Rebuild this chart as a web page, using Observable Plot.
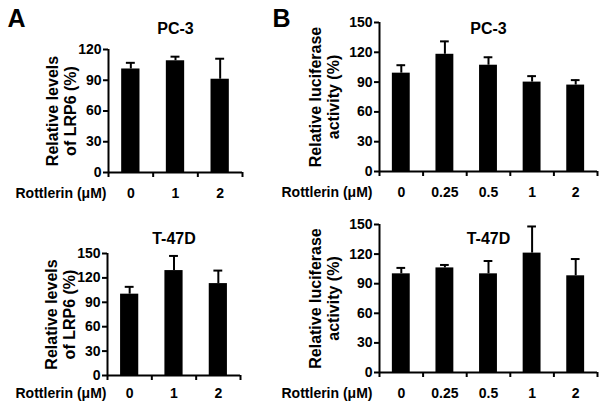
<!DOCTYPE html>
<html><head><meta charset="utf-8">
<script src="https://cdn.jsdelivr.net/npm/d3@7"></script>
<script src="https://cdn.jsdelivr.net/npm/@observablehq/plot@0.6"></script>
<style>
body{margin:0;background:#fff;}
#wrap{position:relative;width:604px;height:406px;background:#fff;}
.panel{position:absolute;}
</style></head><body>
<div id="wrap"></div>
<script>
// ---- data ----
const dosesA = ["0", "1", "2"];
const dosesB = ["0", "0.25", "0.5", "1", "2"];
const lrp6PC3 = [101, 109, 91];
const lrp6PC3Err = [6, 4, 20];
const lrp6T47D = [100, 129, 113];
const lrp6T47DErr = [9, 18, 16];
const lucPC3 = [99, 118, 107, 90, 87];
const lucPC3Err = [8, 13, 8, 6, 5];
const lucT47D = [100, 106, 100, 121, 98];
const lucT47DErr = [6, 3, 13, 27, 17];
const ticks120 = [0, 30, 60, 90, 120];
const ticks150 = [0, 30, 60, 90, 120, 150];
const xTitle = "Rottlerin (\u03BCM)";
const yTitleA = "Relative levels\nof LRP6 (%)";
const yTitleB = "Relative luciferase\nactivity (%)";

const FONT = "'Liberation Sans', Arial, Helvetica, sans-serif";

function panel(o) {
  const data = o.cats.map((c, i) => ({dose: c, pos: i + 0.5, value: o.values[i], err: o.errs[i]}));
  const n = o.cats.length;
  const marks = [
    Plot.rectY(data, {x1: d => d.pos - 0.205, x2: d => d.pos + 0.205, y: "value", fill: "black"}),
    Plot.ruleX(data, {x: "pos", y1: "value", y2: d => d.value + d.err, stroke: "black", strokeWidth: 2}),
    Plot.ruleY(data, {y: d => d.value + d.err, x1: d => d.pos - 0.1, x2: d => d.pos + 0.1, stroke: "black", strokeWidth: 2}),
    Plot.axisY({ticks: o.yTicks, label: null, tickSize: 5, tickPadding: 2, strokeWidth: 2, tickFormat: d => String(d), fontSize: 14, fontWeight: "bold"}),
    Plot.axisX({ticks: d3.range(n + 1), label: null, tickSize: 5, strokeWidth: 2, tickFormat: () => ""}),
    Plot.ruleX([0], {stroke: "black", strokeWidth: 2}),
    Plot.ruleY([0], {stroke: "black", strokeWidth: 2}),
    Plot.text(data, {x: "pos", text: "dose", frameAnchor: "bottom", dy: o.xlabDy, lineAnchor: "bottom", fontSize: 14, fontWeight: "bold"}),
    Plot.text([xTitle], {text: d => d, frameAnchor: "bottom-left", dx: o.rottDx, dy: o.xlabDy, textAnchor: "end", lineAnchor: "bottom", fontSize: 14, fontWeight: "bold"}),
    Plot.text([o.title], {text: d => d, frameAnchor: "top", dy: o.titleDy, lineAnchor: "bottom", fontSize: 16, fontWeight: "bold"}),
    Plot.text([o.ylabel], {text: d => d, frameAnchor: "left", dx: o.ylabelDx, dy: o.ylabelDy || 0, rotate: -90, lineAnchor: "bottom", textAnchor: "middle", lineHeight: 1.1, fontSize: 16, fontWeight: "bold"})
  ];
  if (o.letter) {
    marks.push(Plot.text([o.letter], {text: d => d, frameAnchor: "top-left", dx: o.letterDx, dy: o.letterDy, textAnchor: "start", lineAnchor: "bottom", fontSize: 25, fontWeight: "bold"}));
  }
  const chart = Plot.plot({
    width: o.width, height: o.height,
    marginLeft: o.m[0], marginRight: o.m[1], marginTop: o.m[2], marginBottom: o.m[3],
    x: {type: "linear", domain: [0, n]},
    y: {domain: [0, o.yMax]},
    style: {fontFamily: FONT, color: "black", background: "transparent", overflow: "visible"},
    marks
  });
  const div = document.createElement("div");
  div.className = "panel";
  div.style.left = o.left + "px";
  div.style.top = o.top + "px";
  div.appendChild(chart);
  document.getElementById("wrap").appendChild(div);
}

panel({cats: dosesA, values: lrp6PC3, errs: lrp6PC3Err, yMax: 120, yTicks: ticks120,
  title: "PC-3", titleDy: -16, ylabel: yTitleA, ylabelDx: -33, xlabDy: 25, rottDx: -2,
  left: 0, top: 0, width: 265, height: 200, m: [108, 23, 49, 28],
  letter: "A", letterDx: -101, letterDy: -23});
panel({cats: dosesA, values: lrp6T47D, errs: lrp6T47DErr, yMax: 150, yTicks: ticks150,
  title: "T-47D", titleDy: -10, ylabel: yTitleA, ylabelDx: -33, xlabDy: 22, rottDx: -1,
  left: 0, top: 200, width: 265, height: 206, m: [107, 25, 53, 31]});
panel({cats: dosesB, values: lucPC3, errs: lucPC3Err, yMax: 150, yTicks: ticks150,
  title: "PC-3", titleDy: 11, ylabel: yTitleB, ylabelDx: -41, xlabDy: 25, rottDx: -7,
  left: 265, top: 0, width: 339, height: 200, m: [114, 7, 22, 29],
  letter: "B", letterDx: -107, letterDy: 4});
panel({cats: dosesB, values: lucT47D, errs: lucT47DErr, yMax: 150, yTicks: ticks150,
  title: "T-47D", titleDy: 19, ylabel: yTitleB, ylabelDx: -41, xlabDy: 25, rottDx: -7,
  left: 265, top: 200, width: 339, height: 206, m: [114, 7, 24, 34]});
</script>
</body></html>
